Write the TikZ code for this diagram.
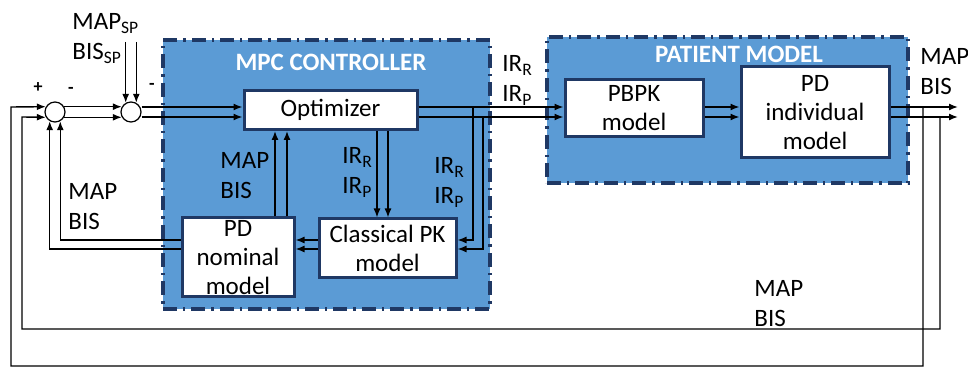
\documentclass[tikz,border=0pt]{standalone}
\usepackage{fontspec}
\setmainfont{Carlito}
\usepackage{tikz}
\usetikzlibrary{arrows.meta}

\definecolor{mpcblue}{HTML}{5B9BD5}
\definecolor{mpcnavy}{HTML}{1F3864}

\tikzset{
  block/.style={draw=mpcnavy,line width=1.5pt,fill=white,align=center,inner sep=0pt,
    font=\fontsize{12.5}{14.5}\selectfont},
  region/.style={draw=mpcnavy,line width=1.6pt,fill=mpcblue,
    dash pattern=on 7pt off 3pt on 1.2pt off 3pt},
  sumnode/.style={circle,draw,fill=white,minimum size=10pt,inner sep=0pt,line width=0.6pt},
  sig/.style={line width=0.7pt,-{Latex[length=4.5pt,width=3.5pt]}},
  lbl/.style={anchor=north west,inner sep=0pt,align=left,font=\fontsize{12.5}{15}\selectfont},
  title/.style={text=white,font=\fontsize{12.5}{15}\selectfont\bfseries},
  sign/.style={inner sep=0pt,font=\fontsize{9}{10}\selectfont\bfseries},
}

\begin{document}
\begin{tikzpicture}[x=0.5pt,y=-0.5pt]
\useasboundingbox (0,0) rectangle (968,367);

% Regions
\node[region,minimum width=163.5pt,minimum height=134.5pt] (mpc) at (326.5,174.5) {};
\node[region,minimum width=180.5pt,minimum height=73pt] (patient) at (727.5,110) {};
\node[title] (mpcTitle) at (331,62) {MPC CONTROLLER};
\node[title] (patTitle) at (739,54) {PATIENT MODEL};

% Blocks
\node[block,minimum width=86.5pt,minimum height=19.5pt] (opt) at (330.5,110) {Optimizer};
\node[block,minimum width=56pt,minimum height=39.5pt] (pdnom) at (238,257.5) {PD\\nominal\\model};
\node[block,minimum width=68.5pt,minimum height=29.5pt] (pk) at (387.5,248.5) {Classical PK\\model};
\node[block,minimum width=69pt,minimum height=28.5pt] (pbpk) at (634,108.5) {PBPK\\model};
\node[block,minimum width=74pt,minimum height=45.5pt] (pdind) at (815,112.5) {PD\\individual\\model};

% Summing junctions
\node[sumnode] (sumA) at (55,112) {};
\node[sumnode] (sumB) at (131,112) {};

% Signal rows and turning points
\coordinate (rowA) at (0,107);
\coordinate (rowB) at (0,117);
\coordinate (nomA) at (0,240);
\coordinate (nomB) at (0,249);
\coordinate (spTop) at (0,42);
\coordinate (tapA) at (473,0);
\coordinate (tapB) at (483,0);
\coordinate (outA) at (923,0);
\coordinate (outB) at (940,0);
\coordinate (loopA) at (0,366);
\coordinate (loopB) at (0,329);
\coordinate (leftA) at (11,0);
\coordinate (leftB) at (22,0);
\coordinate (outMap) at (958,107);
\coordinate (outBis) at (958,117);

% Forward path
\draw[sig] (sumB.120 |- spTop) -- (sumB.120);
\draw[sig] (sumB.60 |- spTop) -- (sumB.60);
\draw[sig] (sumA.30) -- (sumB.150);
\draw[sig] (sumA.-30) -- (sumB.-150);
\foreach \r in {rowA,rowB}{
  \draw[sig] (sumB.east |- \r) -- (opt.west |- \r);
  \draw[sig] (opt.east |- \r) -- (pbpk.west |- \r);
  \draw[sig] (pbpk.east |- \r) -- (pdind.west |- \r);
}
\draw[sig] (pdind.east |- rowA) -- (outMap);
\draw[sig] (pdind.east |- rowB) -- (outBis);

% Inside the controller
\foreach \x in {377,388}
  \draw[sig] (\x,0 |- opt.south) -- (\x,0 |- pk.north);
\foreach \x in {275,287}
  \draw[sig] (\x,0 |- pdnom.north) -- (\x,0 |- opt.south);
\draw[sig] (tapA |- rowA) -- (tapA |- nomA) -- (pk.east |- nomA);
\draw[sig] (tapB |- rowB) -- (tapB |- nomB) -- (pk.east |- nomB);
\draw[sig] (pk.west |- nomA) -- (pdnom.east |- nomA);
\draw[sig] (pk.west |- nomB) -- (pdnom.east |- nomB);
\draw[sig] (pdnom.west |- nomA) -- (sumA.-60 |- nomA) -- (sumA.-60);
\draw[sig] (pdnom.west |- nomB) -- (sumA.-120 |- nomB) -- (sumA.-120);

% Outer feedback
\draw[sig] (outA |- rowA) -- (outA |- loopA) -- (leftA |- loopA) -- (leftA |- rowA) -- (sumA.150);
\draw[sig] (outB |- rowB) -- (outB |- loopB) -- (leftB |- loopB) -- (leftB |- rowB) -- (sumA.210);

% Labels
\node[lbl] (spLbl) at (72,13) {MAP\textsubscript{SP}\\BIS\textsubscript{SP}};
\node[lbl] (fbLbl) at (68,183) {MAP\\BIS};
\node[lbl] (nomLbl) at (220,152) {MAP\\BIS};
\node[lbl] (optLbl) at (342,147) {IR\textsubscript{R}\\IR\textsubscript{P}};
\node[lbl] (tapLbl) at (434,157) {IR\textsubscript{R}\\IR\textsubscript{P}};
\node[lbl] (infLbl) at (502,55) {IR\textsubscript{R}\\IR\textsubscript{P}};
\node[lbl] (outLbl) at (920,48) {MAP\\BIS};
\node[lbl] (loopLbl) at (754,280) {MAP\\BIS};
\node[sign] (plusA) at (38,88) {+};
\node[sign] (minusA) at (71,90) {-};
\node[sign] (minusB) at (152,86) {-};
\end{tikzpicture}
\end{document}
